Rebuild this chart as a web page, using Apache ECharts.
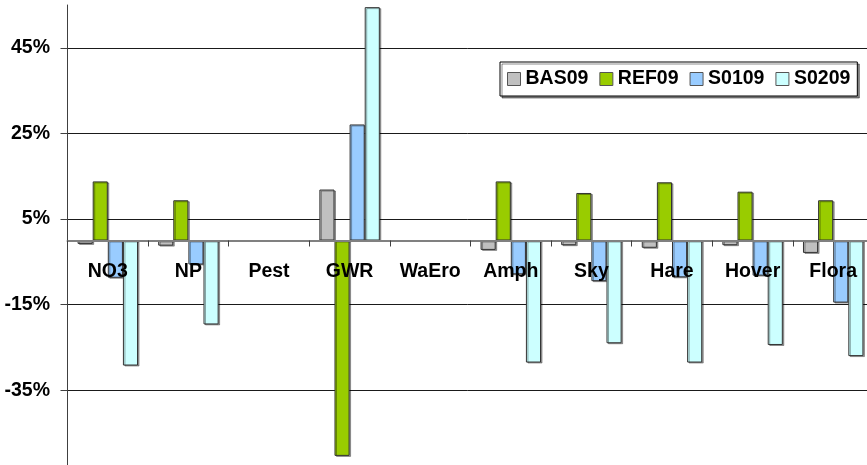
<!DOCTYPE html>
<html>
<head>
<meta charset="utf-8">
<script src="https://cdn.jsdelivr.net/npm/echarts@6/dist/echarts.min.js"></script>
<style>
  html, body { margin: 0; padding: 0; background: #fff; }
  #chart { width: 867px; height: 465px; }
</style>
</head>
<body>
<div id="chart"></div>
<script>
// Indicator categories
const categories = ['NO3', 'NP', 'Pest', 'GWR', 'WaEro', 'Amph', 'Sky', 'Hare', 'Hover', 'Flora'];

// Relative change per scenario (%)
const bas09  = [-0.8, -1.2, null, 11.9, null, -2.2, -1.1, -1.7, -1.1, -2.9];
const ref09  = [13.8,  9.4, null, -50.3, null, 13.8, 11.1, 13.6, 11.4,  9.4];
const s0109  = [-8.7, -5.6, null, 27.1, null, -7.9, -9.5, -8.6, -8.2, -14.5];
const s0209  = [-29.2, -19.6, null, 54.5, null, -28.5, -24.0, -28.5, -24.4, -27.0];

const seriesNames = ['BAS09', 'REF09', 'S0109', 'S0209'];
const seriesColors = ['#C0C0C0', '#99CC00', '#99CCFF', '#CCFFFF'];

const FONT = '"Liberation Sans", Arial, sans-serif';

// Plot area: runs slightly past the canvas at right and bottom
const GRID_TOP = 5;
const GRID_BOTTOM = -11;
const Y_MIN = -55;
const Y_MAX = 55;
const plotHeight = 465 - GRID_TOP - GRID_BOTTOM;
// Category axis sits on the zero line, labels included
const zeroOffset = -plotHeight * (0 - Y_MIN) / (Y_MAX - Y_MIN);

const chart = echarts.init(document.getElementById('chart'), null, { renderer: 'canvas' });

const seriesData = [bas09, ref09, s0109, s0209];

chart.setOption({
  animation: false,
  backgroundColor: '#ffffff',
  grid: {
    left: 67.5, right: -6.5, top: GRID_TOP, bottom: GRID_BOTTOM,
    containLabel: false, outerBoundsMode: 'none'
  },
  legend: {
    data: seriesNames,
    left: 500,
    top: 62,
    orient: 'horizontal',
    itemWidth: 13,
    itemHeight: 13,
    itemGap: 11,
    padding: [7, 7, 7, 7],
    backgroundColor: '#ffffff',
    borderColor: '#000000',
    borderWidth: 1,
    borderRadius: 0,
    shadowColor: 'rgba(0,0,0,0.45)',
    shadowOffsetX: 2,
    shadowOffsetY: 2,
    shadowBlur: 0,
    icon: 'rect',
    itemStyle: { borderColor: '#555555', borderWidth: 1 },
    textStyle: { fontFamily: FONT, fontWeight: 'bold', fontSize: 19.5, color: '#000000', padding: [0, 0, 0, 0] }
  },
  xAxis: {
    type: 'category',
    data: categories,
    position: 'bottom',
    offset: zeroOffset,
    z: 5,
    axisLine: { onZero: false, lineStyle: { color: '#808080', width: 2 } },
    axisTick: { show: true, length: 6, alignWithLabel: false, lineStyle: { color: '#404040', width: 1 } },
    axisLabel: { fontFamily: FONT, fontWeight: 'bold', fontSize: 19.5, color: '#000000', margin: 21, interval: 0 },
    splitLine: { show: false }
  },
  yAxis: {
    type: 'value',
    min: Y_MIN,
    max: Y_MAX,
    interval: 20,
    axisLine: { show: true, lineStyle: { color: '#404040', width: 1 } },
    axisTick: { show: true, length: 7, lineStyle: { color: '#404040', width: 1 } },
    axisLabel: {
      fontFamily: FONT, fontWeight: 'bold', fontSize: 19.5, color: '#000000', margin: 17.5,
      showMaxLabel: false, showMinLabel: false,
      formatter: v => v + '%'
    },
    splitLine: { show: true, showMaxLine: false, showMinLine: false, lineStyle: { color: '#1a1a1a', width: 1 } }
  },
  series: seriesNames.map((name, i) => ({
    name: name,
    type: 'bar',
    data: seriesData[i],
    barGap: '0%',
    barCategoryGap: '25%',
    itemStyle: {
      color: seriesColors[i],
      borderColor: '#333333',
      borderWidth: 1,
      shadowColor: 'rgba(0,0,0,0.35)',
      shadowOffsetX: 1.5,
      shadowOffsetY: 1,
      shadowBlur: 0
    }
  }))
});
</script>
</body>
</html>
